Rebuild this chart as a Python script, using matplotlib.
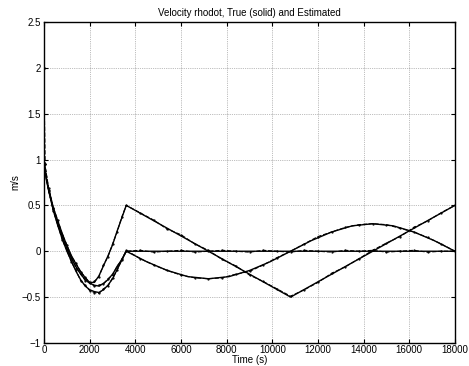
import matplotlib
matplotlib.use("Agg")
import matplotlib.pyplot as plt
import numpy as np

plt.rcParams['font.family'] = ['Liberation Sans', 'DejaVu Sans']

# time grid for the first pass (s)
t_p1 = [0, 100, 200, 400, 600, 800, 1000, 1200, 1400, 1600, 1800, 2000,
        2200, 2400, 2600, 2800, 3000, 3200, 3400, 3600]

# true curves, first pass
a_p1 = [0.97, 0.80, 0.68, 0.48, 0.33, 0.19, 0.06, -0.05, -0.14, -0.22, -0.29, -0.34,
        -0.34, -0.27, -0.16, -0.05, 0.07, 0.22, 0.36, 0.50]
b_p1 = [0.97, 0.79, 0.67, 0.46, 0.30, 0.16, 0.03, -0.08, -0.17, -0.25, -0.31, -0.35,
        -0.37, -0.38, -0.35, -0.31, -0.25, -0.17, -0.09, 0.0]
c_p1 = [0.97, 0.78, 0.66, 0.45, 0.28, 0.13, 0.0, -0.11, -0.22, -0.31, -0.38, -0.42,
        -0.44, -0.45, -0.42, -0.37, -0.30, -0.20, -0.10, 0.0]

# true curves, second pass
t_a2 = [10800, 18000]
a_p2 = [-0.5, 0.5]
t_b2 = [4500, 5400, 6300, 7200, 8100, 9000, 9900, 10800, 11700, 12600,
        13500, 14400, 15300, 16200, 17100, 18000]
b_p2 = [-0.115, -0.21, -0.277, -0.30, -0.277, -0.21, -0.115, 0.0, 0.115, 0.21,
        0.277, 0.30, 0.277, 0.21, 0.115, 0.0]
t_c2 = [18000]
c_p2 = [0.0]

# estimated curves
t_est1 = [0, 30, 200, 400, 600, 800, 1000, 1200, 1400, 1600, 1800, 2000,
          2200, 2400, 2600, 2800, 3000, 3200, 3400, 3600]
a_est1 = [2.0, 0.95, 0.69, 0.47, 0.34, 0.18, 0.07, -0.06, -0.13, -0.23, -0.28, -0.35,
          -0.33, -0.28, -0.15, -0.06, 0.08, 0.21, 0.37, 0.50]
b_est1 = [2.0, 0.95, 0.66, 0.47, 0.29, 0.17, 0.02, -0.07, -0.18, -0.24, -0.32, -0.34,
          -0.38, -0.37, -0.36, -0.30, -0.26, -0.16, -0.10, 0.01]
c_est1 = [2.0, 0.95, 0.67, 0.44, 0.29, 0.12, 0.01, -0.12, -0.21, -0.32, -0.37, -0.43,
          -0.45, -0.46, -0.41, -0.38, -0.29, -0.21, -0.09, 0.0]

t_est2 = [4200, 4800, 5400, 6000, 6600, 7200, 7800, 8400, 9000, 9600, 10200, 10800,
          11400, 12000, 12600, 13200, 13800, 14400, 15000, 15600, 16200, 16800, 17400, 18000]
a_est2 = [0.42, 0.34, 0.24, 0.18, 0.08, 0.01, -0.09, -0.16, -0.26, -0.33, -0.41, -0.49,
          -0.42, -0.34, -0.24, -0.17, -0.08, 0.01, 0.09, 0.16, 0.26, 0.33, 0.42, 0.50]
b_est2 = [-0.08, -0.15, -0.21, -0.26, -0.29, -0.30, -0.29, -0.25, -0.22, -0.15, -0.07, 0.0,
          0.08, 0.16, 0.21, 0.26, 0.29, 0.30, 0.29, 0.25, 0.21, 0.15, 0.08, 0.0]
c_est2 = [0.01, -0.01, 0.0, 0.01, -0.01, 0.0, 0.01, 0.0, -0.01, 0.01, 0.0, -0.01,
          0.01, 0.0, -0.01, 0.01, 0.0, 0.01, -0.01, 0.0, 0.01, -0.01, 0.0, 0.0]

xticks = [0, 2000, 4000, 6000, 8000, 10000, 12000, 14000, 16000, 18000]
yticks = [-1, -0.5, 0, 0.5, 1, 1.5, 2, 2.5]
ytick_labels = ['\u22121', '\u22120.5', '0', '0.5', '1', '1.5', '2', '2.5']


def main():
    fig = plt.figure(figsize=(4.69, 3.66), dpi=100)
    ax = fig.add_axes([0.094, 0.063, 0.876, 0.877])

    for tt, v1, t2, v2 in [(t_p1, a_p1, t_a2, a_p2),
                           (t_p1, b_p1, t_b2, b_p2),
                           (t_p1, c_p1, t_c2, c_p2)]:
        ax.plot(list(tt) + t2, list(v1) + v2, color='black', lw=1.0)

    for e1, e2 in [(a_est1, a_est2), (b_est1, b_est2), (c_est1, c_est2)]:
        ax.plot(t_est1 + t_est2, e1 + e2, color='black', lw=0.8, ls='--',
                marker='.', markersize=1.2)

    ax.set_xlim(0, 18000)
    ax.set_ylim(-1, 2.5)
    ax.set_xticks(xticks)
    ax.set_yticks(yticks)
    ax.set_yticklabels(ytick_labels)
    ax.tick_params(direction='in', top=True, right=True, labelsize=7, length=3)
    ax.tick_params(axis='x', pad=1.5)
    ax.tick_params(axis='y', pad=2.5)
    ax.grid(True, ls=':', color='black', lw=0.5, alpha=0.5)
    for s in ax.spines.values():
        s.set_linewidth(1.0)

    ax.set_title('Velocity rhodot, True (solid) and Estimated', fontsize=7, pad=4)
    ax.set_xlabel('Time (s)', fontsize=7, labelpad=0)
    ax.set_ylabel('m/s', fontsize=7, labelpad=1)

    fig.savefig('out.png', dpi=100)


main()
